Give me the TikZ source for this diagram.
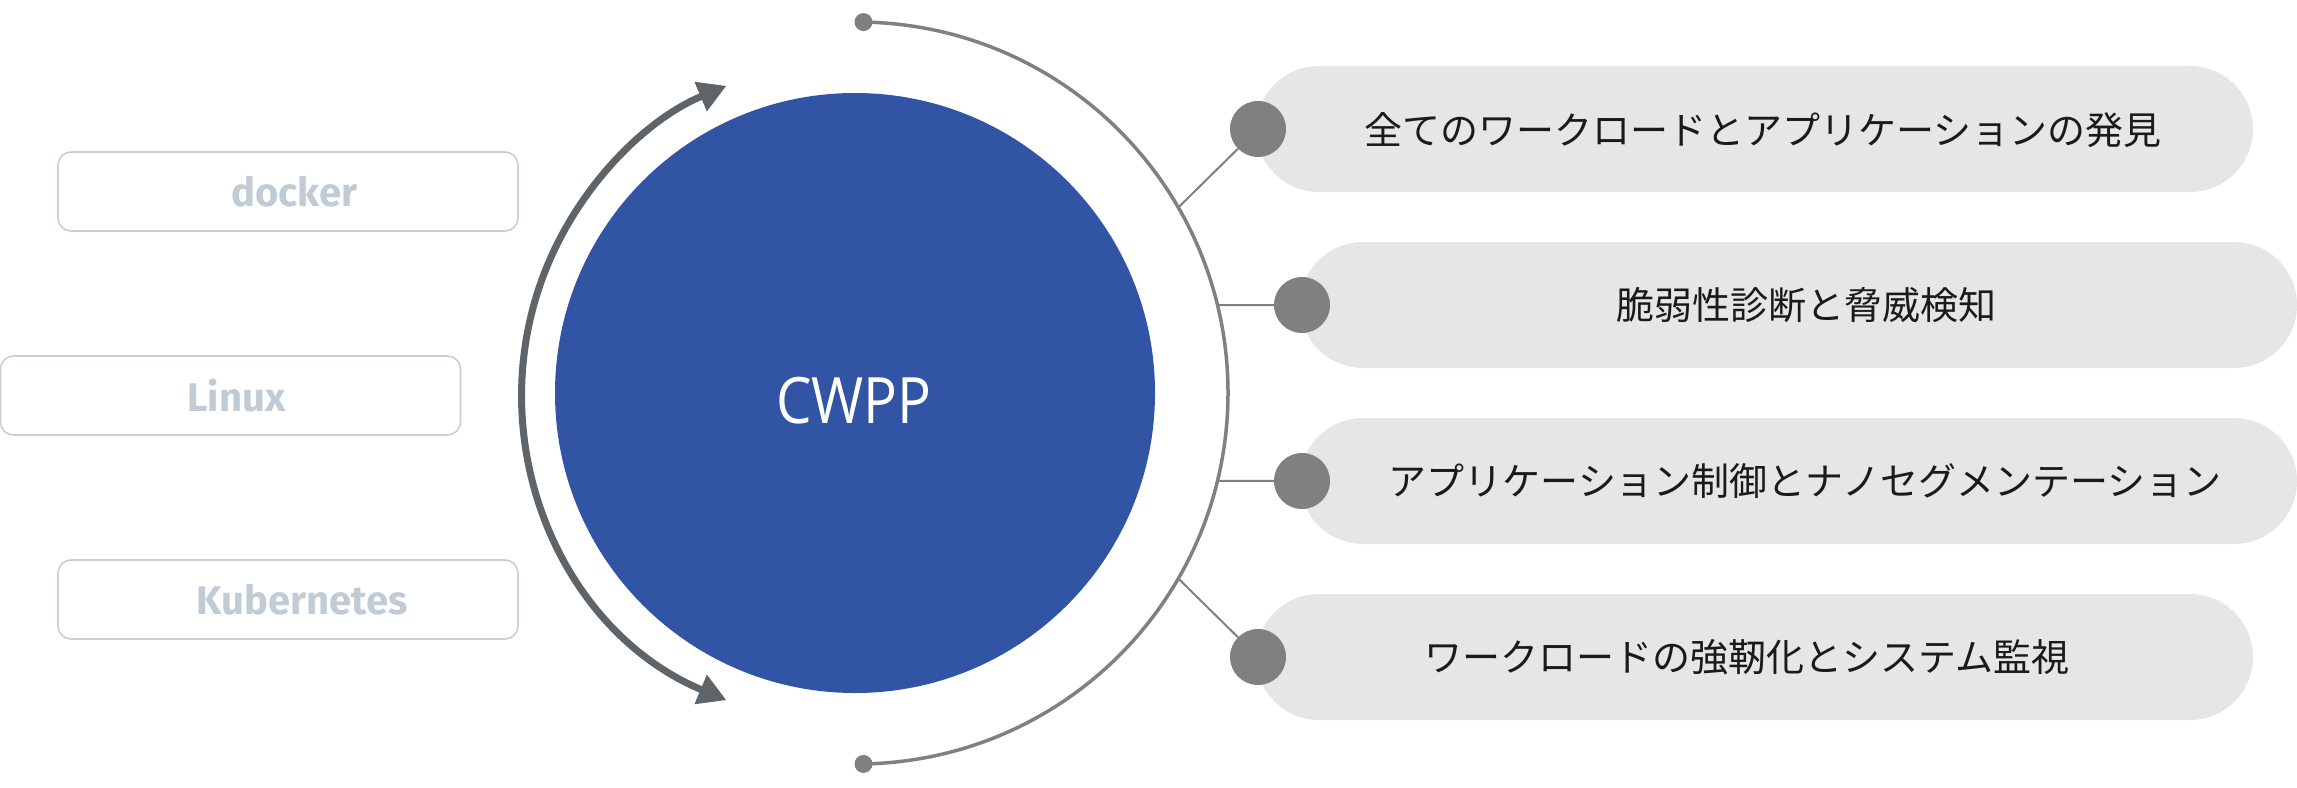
\documentclass[tikz,border=0pt]{standalone}
\usepackage{fontspec}
\setmainfont{Open Sans}
\newfontfamily\cjkfont{Noto Sans CJK JP}
\newfontfamily\boxfont{Fira Sans}
\newfontfamily\cwppfont{Open Sans}
\usetikzlibrary{arrows.meta,calc}
\definecolor{cwppblue}{HTML}{3155A4}
\definecolor{arcgray}{HTML}{808080}
\definecolor{darkarc}{HTML}{5F6468}
\definecolor{pillgray}{HTML}{E6E6E6}
\definecolor{boxline}{HTML}{C5D0D8}
\definecolor{boxtext}{HTML}{BFCCD5}
\definecolor{textblack}{HTML}{1A1A1A}
\begin{document}
\begin{tikzpicture}[x=1bp, y=-1bp,
  osbox/.style={draw=boxline, line width=1.6bp, rounded corners=13bp, minimum width=460bp, minimum height=79bp, inner sep=0pt, text=boxtext, font=\boxfont\bfseries\fontsize{40bp}{44bp}\selectfont},
  pill/.style={fill=pillgray, rounded corners=63bp, minimum width=997bp, minimum height=126bp, inner sep=0pt},
  pilltext/.style={text=textblack, font=\cjkfont\fontsize{38bp}{42bp}\selectfont, inner sep=0pt},
  bigdot/.style={circle, fill=arcgray, minimum size=56bp, inner sep=0pt},
  enddot/.style={circle, fill=arcgray, minimum size=18bp, inner sep=0pt},
  conn/.style={draw=arcgray, line width=2bp},
  outerarc/.style={draw=arcgray, line width=3.5bp},
  cycarrow/.style={draw=darkarc, line width=7bp, {Triangle[length=28bp,width=30bp]}-{Triangle[length=28bp,width=30bp]}},
  bluecirc/.style={circle, fill=cwppblue, minimum size=600bp, inner sep=0pt},
  cwpptext/.style={text=white, inner sep=0pt, font=\cwppfont\fontsize{64bp}{70bp}\selectfont},
]
\useasboundingbox (0,0) rectangle (2297,787);

% left boxes
\node[osbox] (docker) at (288,191.5) {\hspace*{13bp}docker};
\node[osbox] (linux) at (230.5,395.5) {\hspace*{12bp}Linux};
\node[osbox] (kube) at (288,599.5) {\hspace*{28bp}Kubernetes};

% central circle
\node[bluecirc] (cwpp) at (855,393) {};
\node[cwpptext, anchor=base] (cwppl) at (854,423) {\scalebox{0.88}[1]{CWPP}};

% cycle arrow
\coordinate (bc) at (855,393);
\draw[cycarrow] ($(bc)+(112.7:333)$) arc[start angle=112.7, end angle=247.3, radius=333];

% outer arc
\coordinate (oc) at (857,393);
\draw[outerarc] ($(oc)+(-89:371)$) arc[start angle=-89, end angle=89, radius=371];
\node[enddot] (topdot) at ($(oc)+(-89:371)$) {};
\node[enddot] (botdot) at ($(oc)+(89:371)$) {};

% pills
\node[pill] (p1) at (1754.5,129) {};
\node[pill] (p2) at (1798.5,305) {};
\node[pill] (p3) at (1798.5,481) {};
\node[pill] (p4) at (1754.5,657) {};

\node[pilltext] (t1) at (1763,130) {全てのワークロードとアプリケーションの発見};
\node[pilltext] (t2) at (1806,305) {脆弱性診断と脅威検知};
\node[pilltext] (t3) at (1805,481) {アプリケーション制御とナノセグメンテーション};
\node[pilltext] (t4) at (1747,657) {ワークロードの強靭化とシステム監視};

% connection points on arc
\coordinate (a1) at ($(oc)+(-30:371)$);
\coordinate (a2) at ($(oc)+(-13.7:371)$);
\coordinate (a3) at ($(oc)+(13.7:371)$);
\coordinate (a4) at ($(oc)+(30:371)$);

\node[bigdot] (d1) at (1258,129) {};
\node[bigdot] (d2) at (1302,305) {};
\node[bigdot] (d3) at (1302,481) {};
\node[bigdot] (d4) at (1258,657) {};

\draw[conn] (a1) -- (d1);
\draw[conn] (a2) -- (d2);
\draw[conn] (a3) -- (d3);
\draw[conn] (a4) -- (d4);
\end{tikzpicture}
\end{document}
